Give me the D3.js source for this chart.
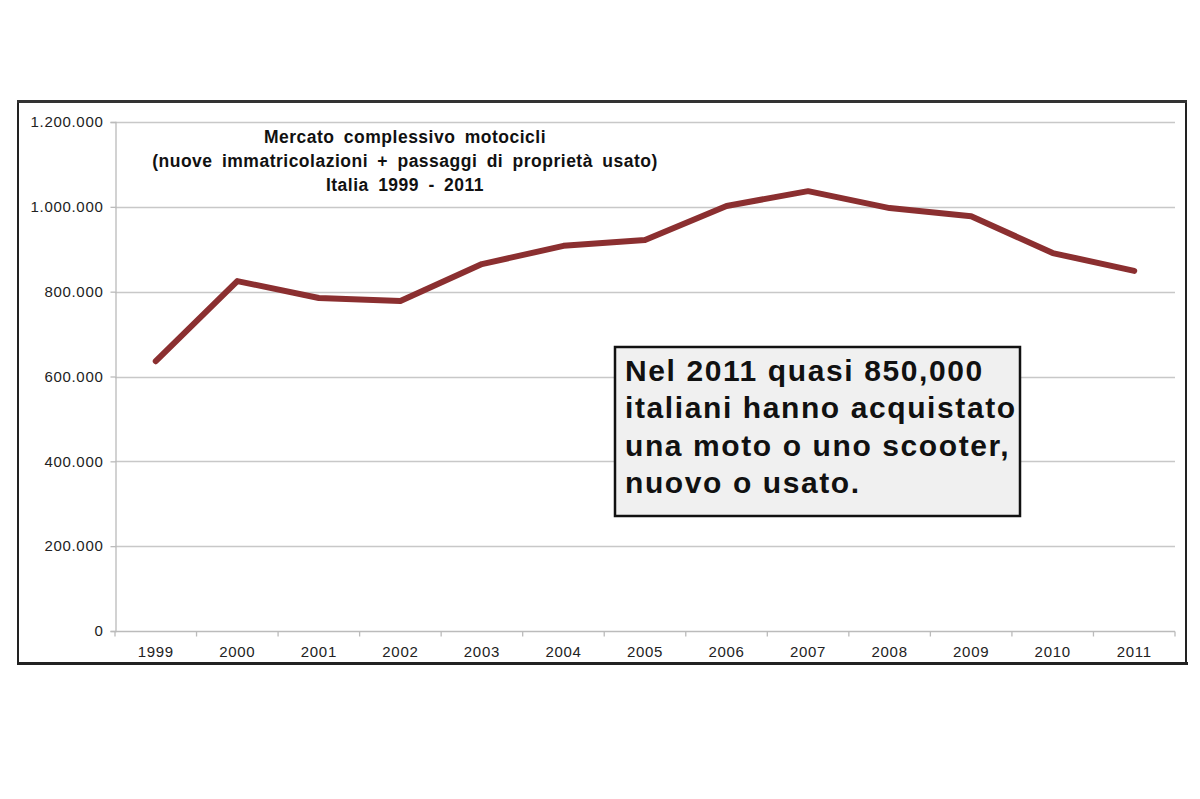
<!DOCTYPE html>
<html>
<head>
<meta charset="utf-8">
<script src="https://cdn.jsdelivr.net/npm/d3@7.9.0/dist/d3.min.js"></script>
<style>
  html, body { margin: 0; padding: 0; background: #fff; }
  svg { display: block; font-family: Arial, "Liberation Sans", sans-serif; }
</style>
</head>
<body>
<svg id="chart" width="1200" height="799"></svg>
<script>
const years = ['1999', '2000', '2001', '2002', '2003', '2004', '2005', '2006', '2007', '2008', '2009', '2010', '2011'];
const market = [636000, 825000, 785000, 778000, 865000, 908000, 922000, 1002000, 1037000, 997000, 978000, 891000, 849000];
const yTicks = [0, 200000, 400000, 600000, 800000, 1000000, 1200000];
const titleLines = [
  'Mercato complessivo motocicli',
  '(nuove immatricolazioni + passaggi di proprietà usato)',
  'Italia 1999 - 2011'
];
const noteLines = [
  'Nel 2011 quasi 850,000',
  'italiani hanno acquistato',
  'una moto o uno scooter,',
  'nuovo o usato.'
];

const svg = d3.select('#chart');
const margin = { left: 115, right: 1175, top: 122, bottom: 631 };

// outer frame
svg.append('rect')
  .attr('x', 18).attr('y', 102)
  .attr('width', 1168).attr('height', 561)
  .attr('fill', '#fff')
  .attr('stroke', '#222').attr('stroke-width', 2);
svg.append('line').attr('x1', 17).attr('x2', 1187).attr('y1', 101.5).attr('y2', 101.5)
  .attr('stroke', '#333').attr('stroke-width', 3);
svg.append('line').attr('x1', 17).attr('x2', 1188).attr('y1', 663.5).attr('y2', 663.5)
  .attr('stroke', '#222').attr('stroke-width', 3);

const x = d3.scaleBand().domain(years).range([margin.left, margin.right]);
const y = d3.scaleLinear().domain([0, 1200000]).range([margin.bottom, margin.top]);

const fmt = v => d3.format(',')(v).replace(/,/g, '.');

// gridlines
svg.append('g')
  .selectAll('line')
  .data(yTicks.filter(d => d > 0))
  .join('line')
  .attr('x1', margin.left).attr('x2', margin.right)
  .attr('y1', d => Math.round(y(d)) + 0.5).attr('y2', d => Math.round(y(d)) + 0.5)
  .attr('stroke', '#c8c8c8').attr('stroke-width', 1.3);

// y axis
const yAxis = svg.append('g')
  .attr('transform', `translate(${margin.left + 0.5},0)`)
  .call(d3.axisLeft(y).tickValues(yTicks).tickFormat(fmt).tickSize(5).tickPadding(7));
yAxis.attr('font-family', null).attr('font-size', null);
yAxis.select('.domain').attr('stroke', '#bbb').attr('stroke-width', 1.3);
yAxis.selectAll('.tick line').attr('stroke', '#bbb').attr('stroke-width', 1.3);
yAxis.selectAll('text')
  .attr('font-size', 15)
  .attr('letter-spacing', 0.7)
  .attr('fill', '#222');

// x axis (ticks between categories)
const xAxis = svg.append('g')
  .attr('transform', `translate(0,${margin.bottom + 0.5})`);
xAxis.append('line')
  .attr('x1', margin.left).attr('x2', margin.right)
  .attr('stroke', '#bbb').attr('stroke-width', 1.3);
xAxis.selectAll('.tk')
  .data(years.concat(['end']))
  .join('line')
  .attr('class', 'tk')
  .attr('x1', (d, i) => margin.left + i * x.step())
  .attr('x2', (d, i) => margin.left + i * x.step())
  .attr('y1', 0).attr('y2', 5)
  .attr('stroke', '#bbb').attr('stroke-width', 1.3);
xAxis.selectAll('text')
  .data(years)
  .join('text')
  .attr('x', d => x(d) + x.bandwidth() / 2)
  .attr('y', 25)
  .attr('text-anchor', 'middle')
  .attr('font-size', 15)
  .attr('letter-spacing', 0.7)
  .attr('fill', '#222')
  .text(d => d);

// title
svg.append('g')
  .selectAll('text')
  .data(titleLines)
  .join('text')
  .attr('x', 405)
  .attr('y', (d, i) => 143 + i * 24)
  .attr('text-anchor', 'middle')
  .attr('font-size', 17.5)
  .attr('font-weight', 'bold')
  .attr('letter-spacing', 0.5)
  .attr('word-spacing', 4)
  .attr('fill', '#111')
  .text(d => d);

// line
const line = d3.line()
  .x((d, i) => x(years[i]) + x.bandwidth() / 2)
  .y(d => y(d));
svg.append('path')
  .datum(market)
  .attr('d', line)
  .attr('fill', 'none')
  .attr('stroke', '#8b2f30')
  .attr('stroke-width', 6)
  .attr('stroke-linejoin', 'round')
  .attr('stroke-linecap', 'round');

// annotation box
const note = svg.append('g');
note.append('rect')
  .attr('x', 615).attr('y', 347)
  .attr('width', 405).attr('height', 169)
  .attr('fill', '#f0f0f0')
  .attr('stroke', '#111').attr('stroke-width', 2.5);
note.selectAll('text')
  .data(noteLines)
  .join('text')
  .attr('x', 625)
  .attr('y', (d, i) => 381 + i * 37.3)
  .attr('font-size', 30)
  .attr('font-weight', 'bold')
  .attr('letter-spacing', 1.6)
  .attr('fill', '#111')
  .text(d => d);
</script>
</body>
</html>
